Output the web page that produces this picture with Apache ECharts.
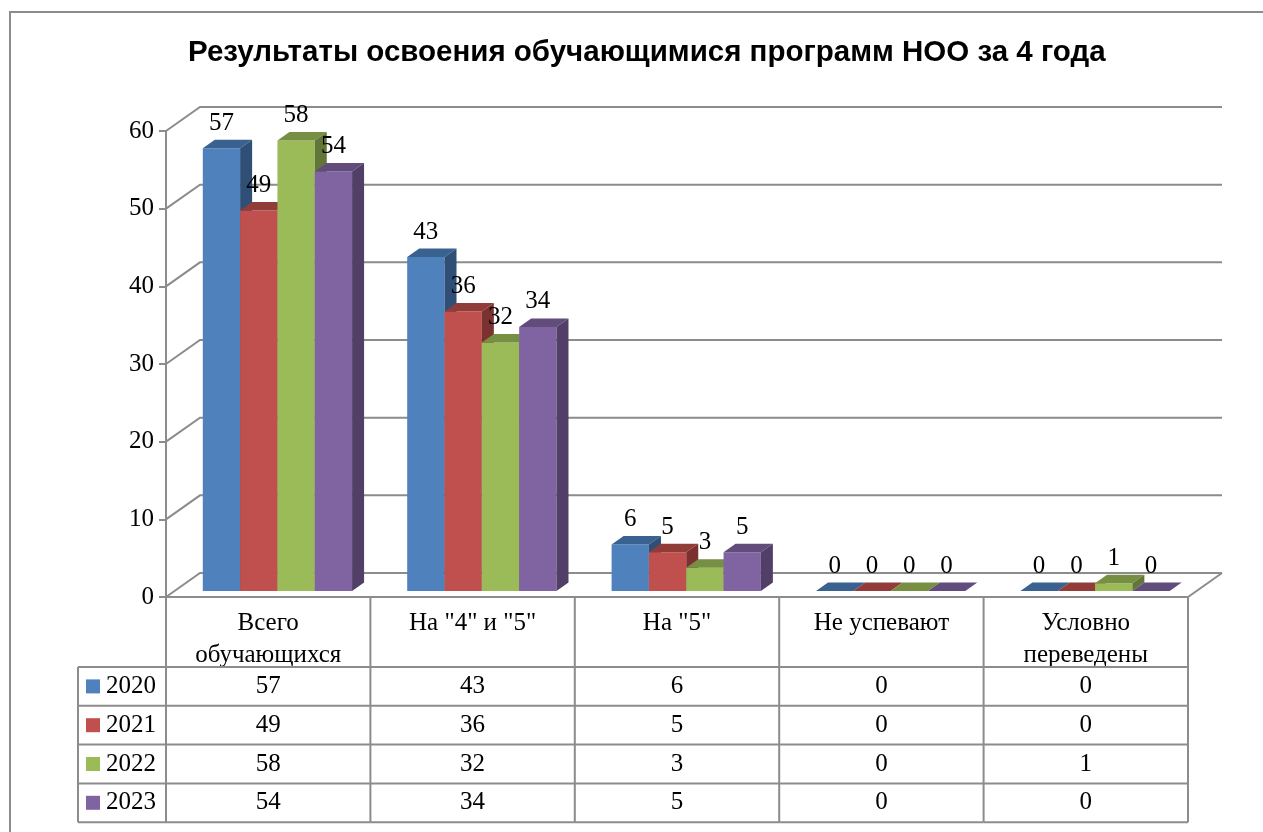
<!DOCTYPE html>
<html lang="ru">
<head>
<meta charset="UTF-8" />
<title>Результаты освоения</title>
<style>
  html, body { margin: 0; padding: 0; background: #fff; }
  #main { width: 1263px; height: 832px; }
</style>
</head>
<body>
<div id="main"></div>
<script src="https://cdn.jsdelivr.net/npm/echarts@6/dist/echarts.min.js"></script>
<script>
  /* globals echarts */
  var categories = ['Всего\nобучающихся', 'На "4" и "5"', 'На "5"', 'Не успевают', 'Условно\nпереведены'];
  var years = ['2020', '2021', '2022', '2023'];
  var v2020 = [57, 43, 6, 0, 0];
  var v2021 = [49, 36, 5, 0, 0];
  var v2022 = [58, 32, 3, 0, 1];
  var v2023 = [54, 34, 5, 0, 0];
  var yTicks = [0, 10, 20, 30, 40, 50, 60];

  var values = [v2020, v2021, v2022, v2023];
  var palette = [
    { front: '#4f81bd', top: '#3a6290', side: '#2f4f76' },
    { front: '#c0504d', top: '#923c3a', side: '#7b312f' },
    { front: '#9bbb59', top: '#768f43', side: '#627737' },
    { front: '#8064a2', top: '#614c7b', side: '#513f67' }
  ];
  var gridColor = '#8c8c8c';
  var serif = '"Liberation Serif", "Times New Roman", serif';
  var fs = 25;
  var DX = 34, DY = 24; // wall depth
  var dx = 12, dy = 8.5; // bar depth

  function wallRenderer(params, api) {
    var cs = params.coordSys;
    var v = api.value(1);
    var y = api.coord([0, v])[1];
    var x0 = cs.x, x1 = cs.x + cs.width;
    var kids = [{
      type: 'polyline',
      shape: { points: [[x0, y], [x0 + DX, y - DY], [x1 + DX, y - DY]] },
      style: { stroke: gridColor, lineWidth: 2, fill: null }
    }];
    if (v === 0) {
      kids.push({
        type: 'polyline',
        shape: { points: [[x0, y], [x1, y], [x1 + DX, y - DY]] },
        style: { stroke: gridColor, lineWidth: 2, fill: null }
      });
    }
    return { type: 'group', children: kids };
  }

  function barRenderer(k) {
    return function (params, api) {
      var cat = api.value(0), val = api.value(1);
      var band = api.size([1, 0])[0];
      var base = api.coord([cat, 0]);
      var top = api.coord([cat, val]);
      var w = band * 0.1826;
      var left = base[0] - band / 2 + band * 0.18 + k * w;
      var yb = base[1] - 6, yt = top[1] - 6;
      var c = palette[k];
      return {
        type: 'group',
        children: [
          { type: 'rect', shape: { x: left, y: yt, width: w, height: yb - yt }, style: { fill: c.front } },
          { type: 'polygon', shape: { points: [[left, yt], [left + dx, yt - dy], [left + w + dx, yt - dy], [left + w, yt]] }, style: { fill: c.top } },
          { type: 'polygon', shape: { points: [[left + w, yt], [left + w + dx, yt - dy], [left + w + dx, yb - dy], [left + w, yb]] }, style: { fill: c.side } },
          { type: 'text', z2: 100, style: { text: String(val), x: left + w / 2, y: yt - 25, align: 'center', verticalAlign: 'middle', font: fs + 'px ' + serif, fill: '#000' } }
        ]
      };
    };
  }

  function tableRenderer(params, api) {
    var i = api.value(0);
    var band = api.size([1, 0])[0];
    var base = api.coord([i, 0]);
    var x0 = base[0] - band / 2, x1 = base[0] + band / 2;
    var y0 = base[1];
    var rowTop = y0 + 70, rowH = 38.8;
    var bottom = rowTop + rowH * years.length;
    var line = { stroke: gridColor, lineWidth: 2 };
    var kids = [
      { type: 'line', shape: { x1: x1, y1: y0, x2: x1, y2: bottom }, style: line }
    ];
    for (var r = 0; r <= years.length; r++) {
      kids.push({ type: 'line', shape: { x1: x0, y1: rowTop + r * rowH, x2: x1, y2: rowTop + r * rowH }, style: line });
    }
    for (var s = 0; s < years.length; s++) {
      kids.push({ type: 'text', style: { text: String(values[s][i]), x: base[0], y: rowTop + (s + 0.5) * rowH, align: 'center', verticalAlign: 'middle', font: fs + 'px ' + serif, fill: '#000' } });
    }
    if (i === 0) {
      var lx = x0 - 88;
      kids.push({ type: 'line', shape: { x1: x0, y1: y0, x2: x0, y2: bottom }, style: line });
      kids.push({ type: 'line', shape: { x1: lx, y1: rowTop, x2: lx, y2: bottom }, style: line });
      for (var q = 0; q <= years.length; q++) {
        kids.push({ type: 'line', shape: { x1: lx, y1: rowTop + q * rowH, x2: x0, y2: rowTop + q * rowH }, style: line });
      }
      for (var t = 0; t < years.length; t++) {
        var cy = rowTop + (t + 0.5) * rowH;
        kids.push({ type: 'rect', shape: { x: lx + 8, y: cy - 7, width: 14, height: 14 }, style: { fill: palette[t].front } });
        kids.push({ type: 'text', style: { text: years[t], x: lx + 28, y: cy, align: 'left', verticalAlign: 'middle', font: fs + 'px ' + serif, fill: '#000' } });
      }
    }
    return { type: 'group', children: kids };
  }

  var chart = echarts.init(document.getElementById('main'));

  var series = [{
    type: 'custom',
    z: 1,
    renderItem: wallRenderer,
    data: yTicks.map(function (v) { return [0, v]; }),
    silent: true
  }, {
    type: 'custom',
    z: 1,
    renderItem: tableRenderer,
    data: categories.map(function (c, i) { return [i, 0]; }),
    silent: true
  }];
  years.forEach(function (y, k) {
    series.push({
      name: y,
      type: 'custom',
      renderItem: barRenderer(k),
      data: values[k].map(function (v, i) { return [i, v]; })
    });
  });

  chart.setOption({
    animation: false,
    title: {
      text: 'Результаты освоения обучающимися программ НОО за 4 года',
      left: 183,
      top: 33,
      textStyle: { fontFamily: '"Liberation Sans", Arial, sans-serif', fontWeight: 'bold', fontSize: 29.5, color: '#000' }
    },
    graphic: [{
      type: 'rect',
      shape: { x: 10, y: 12, width: 1400, height: 1000 },
      style: { fill: null, stroke: gridColor, lineWidth: 2 },
      silent: true
    }],
    grid: { left: 166, top: 131, right: 75, bottom: 235 },
    xAxis: {
      type: 'category',
      data: categories,
      axisLine: { show: false },
      axisTick: { show: false },
      axisLabel: { interval: 0, margin: 10, lineHeight: 32, fontSize: fs, fontFamily: serif, color: '#000' }
    },
    yAxis: {
      type: 'value',
      min: 0,
      max: 60,
      interval: 10,
      axisLine: { show: true, lineStyle: { color: gridColor, width: 2 } },
      axisTick: { show: true, length: 7, lineStyle: { color: gridColor, width: 2 } },
      axisLabel: { margin: 12, fontSize: fs, fontFamily: serif, color: '#000' },
      splitLine: { show: false }
    },
    series: series
  });
</script>
</body>
</html>
